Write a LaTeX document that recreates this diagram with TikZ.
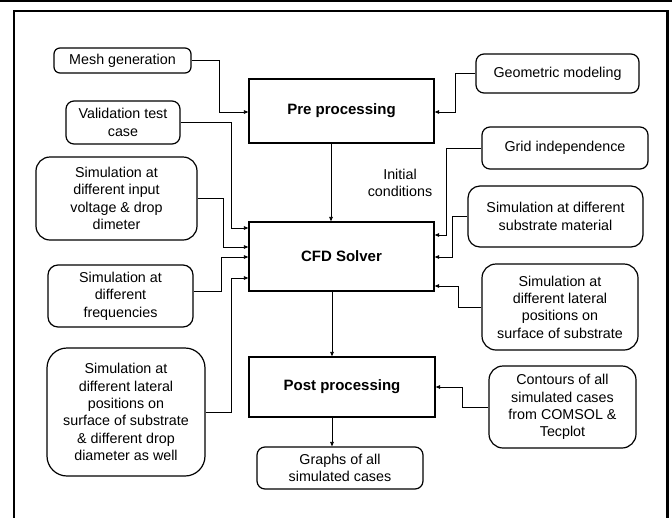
\documentclass[tikz,border=0pt]{standalone}
\usepackage{fontspec}
\setmainfont{Liberation Sans}
\usetikzlibrary{arrows.meta}
\begin{document}
\begin{tikzpicture}[x=1pt,y=-1pt,
  txt/.style={font=\fontsize{14.3}{17.3}\selectfont, align=center, inner sep=0pt},
  rbox/.style={txt, draw, line width=1.2pt, rectangle, rounded corners=#1},
  rbox/.default=8pt,
  mainbox/.style={draw, line width=1.3pt, rectangle, inner sep=0pt, align=center,
    font=\fontsize{15}{18}\selectfont\bfseries},
  conn/.style={line width=0.8pt, -{Triangle[length=4.5pt,width=3.6pt]}},
  frame/.style={line width=2.4pt}
]
\useasboundingbox (0,0) rectangle (672,517);
% outer frame
\draw[frame] (0,1.2) -- (672,1.2);
\draw[frame, line cap=rect] (13.8,519) -- (13.8,11.2) -- (667.5,11.2) -- (667.5,519);

% main boxes
\node[mainbox, minimum width=185pt, minimum height=64pt] (pre) at (341.5,111) {Pre processing};
\node[mainbox, minimum width=185pt, minimum height=69pt] (cfd) at (341.5,256.5) {CFD Solver};
\node[mainbox, minimum width=186pt, minimum height=60pt] (post) at (342,387) {Post processing};

% left boxes
\node[rbox=6pt, minimum width=137pt, minimum height=25pt] (mesh) at (122.5,60.5) {Mesh generation};
\node[rbox=8pt, minimum width=114pt, minimum height=43pt] (valid) at (123,122.5) {Validation test\\case};
\node[rbox=14pt, minimum width=161pt, minimum height=83pt] (volt) at (116.5,198.5) {Simulation at\\different input\\voltage \& drop\\dimeter};
\node[rbox=10pt, minimum width=145pt, minimum height=62pt] (freq) at (120.5,296) {Simulation at\\different\\frequencies};
\node[rbox=20pt, minimum width=158pt, minimum height=128pt] (latL) at (126,412) {Simulation at\\different lateral\\positions on\\surface of substrate\\\& different drop\\diameter as well};

% right boxes
\node[rbox=8pt, minimum width=163pt, minimum height=39pt] (geo) at (557.5,73.5) {Geometric modeling};
\node[rbox=8pt, minimum width=166pt, minimum height=42pt] (grid) at (565,148) {Grid independence};
\node[rbox=12pt, minimum width=175pt, minimum height=61pt] (subs) at (555.5,216.5) {Simulation at different\\substrate material};
\node[rbox=14pt, minimum width=156pt, minimum height=86pt] (latR) at (560,307) {Simulation at\\different lateral\\positions on\\surface of substrate};
\node[rbox=14pt, minimum width=147pt, minimum height=82pt] (cont) at (562.5,407) {Contours of all\\simulated cases\\from COMSOL \&\\Tecplot};

% bottom
\node[rbox=8pt, minimum width=166pt, minimum height=42pt] (graphs) at (340,468) {Graphs of all\\simulated cases};

% label
\node[txt] (init) at (400,183) {Initial\\conditions};

% connectors left
\draw[conn] (mesh.east) -| ([xshift=-29pt,yshift=-1pt]pre.west) -- ([yshift=-1pt]pre.west);
\draw[conn] (valid.east) -| ([xshift=-17pt,yshift=28.5pt]cfd.west) -- ([yshift=28.5pt]cfd.west);
\draw[conn] (volt.east) -| ([xshift=-25pt,yshift=9.5pt]cfd.west) -- ([yshift=9.5pt]cfd.west);
\draw[conn] ([yshift=5pt]freq.east) -| ([xshift=-27pt,yshift=-0.5pt]cfd.west) -- ([yshift=-0.5pt]cfd.west);
\draw[conn] (latL.east) -| ([xshift=-17pt,yshift=-21.5pt]cfd.west) -- ([yshift=-21.5pt]cfd.west);

% connectors right
\draw[conn] (geo.west) -| ([xshift=21pt,yshift=-1pt]pre.east) -- ([yshift=-1pt]pre.east);
\draw[conn] (grid.west) -| ([xshift=12pt,yshift=21.5pt]cfd.east) -- ([yshift=21.5pt]cfd.east);
\draw[conn] (subs.west) -| ([xshift=18pt,yshift=-0.5pt]cfd.east) -- ([yshift=-0.5pt]cfd.east);
\draw[conn] (latR.west) -| ([xshift=24pt,yshift=-29.5pt]cfd.east) -- ([yshift=-29.5pt]cfd.east);
\draw[conn] (cont.west) -| ([xshift=27pt]post.east) -- (post.east);

% vertical flow
\draw[conn] ([xshift=-10.5pt]pre.south) -- ([xshift=-10.5pt]cfd.north);
\draw[conn] ([xshift=-9.5pt]cfd.south) -- ([xshift=-10pt]post.north);
\draw[conn] ([xshift=-10pt]post.south) -- ([xshift=-8pt]graphs.north);
\end{tikzpicture}
\end{document}
